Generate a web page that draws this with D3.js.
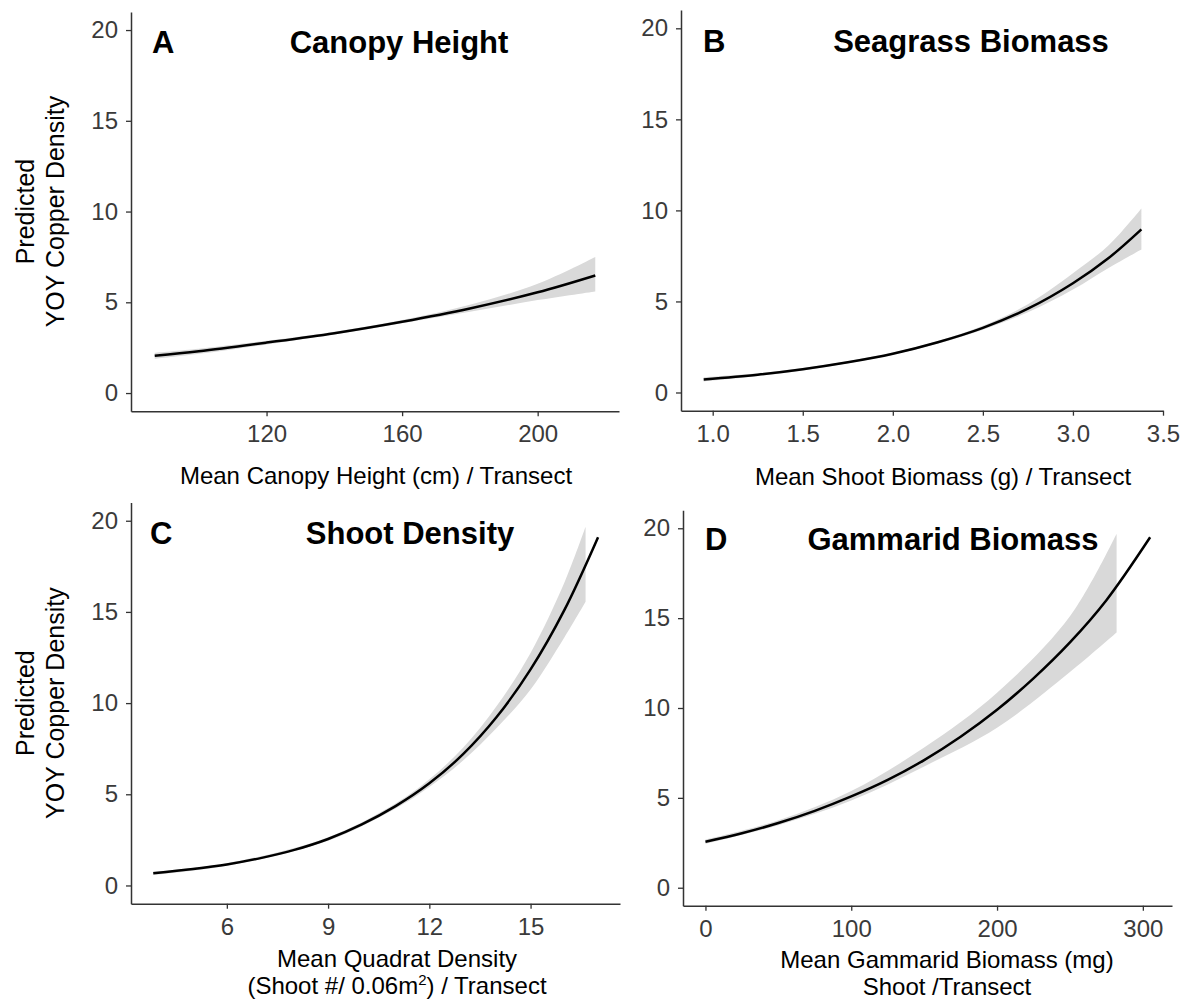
<!DOCTYPE html>
<html>
<head>
<meta charset="utf-8">
<title>Predicted YOY copper density</title>
<script src="https://d3js.org/d3.v7.min.js"></script>
<style>
  body { margin: 0; background: #fff; }
  svg { display: block; font-family: "Liberation Sans", Arial, sans-serif; }
</style>
</head>
<body>
<script>
// ---- data ----
var yTicks = [0, 5, 10, 15, 20];

// A: canopy height
var canopyX     = [87, 100, 120, 140, 160, 180, 200, 217];
var canopyFit   = [2.05, 2.30, 2.78, 3.30, 3.93, 4.66, 5.55, 6.48];
var canopyLower = [1.88, 2.16, 2.68, 3.22, 3.85, 4.48, 5.12, 5.60];
var canopyUpper = [2.22, 2.44, 2.88, 3.38, 4.02, 4.86, 6.02, 7.50];
var canopyTicks = [120, 160, 200];

// B: seagrass biomass
var biomassX     = [0.95, 1.25, 1.5, 1.75, 2.0, 2.25, 2.5, 2.75, 3.0, 3.2, 3.38];
var biomassFit   = [0.72, 0.98, 1.28, 1.66, 2.13, 2.76, 3.55, 4.60, 6.00, 7.40, 8.96];
var biomassLower = [0.60, 0.90, 1.21, 1.60, 2.07, 2.69, 3.45, 4.40, 5.65, 6.85, 7.85];
var biomassUpper = [0.84, 1.06, 1.35, 1.72, 2.19, 2.83, 3.66, 4.85, 6.55, 8.10, 10.1];
var biomassTicks = [1.0, 1.5, 2.0, 2.5, 3.0, 3.5];

// C: shoot density
var densityX     = [3.82, 5, 6, 7, 8, 9, 10, 11, 12, 13, 14, 15, 16, 17];
var densityFit   = [0.67, 0.90, 1.15, 1.50, 1.95, 2.55, 3.35, 4.35, 5.60, 7.20, 9.25, 11.85, 15.1, 19.1];
var densityBandX = [3.82, 6, 9, 11, 12, 13, 14, 15, 16, 16.63];
var densityLower = [0.58, 1.08, 2.45, 4.22, 5.40, 6.85, 8.65, 10.75, 13.6, 15.56];
var densityUpper = [0.76, 1.22, 2.65, 4.50, 5.82, 7.55, 9.85, 12.75, 16.6, 19.67];
var densityTicks = [6, 9, 12, 15];

// D: gammarid biomass
var gammarusX     = [0, 25, 50, 75, 100, 125, 150, 175, 200, 225, 250, 275, 305];
var gammarusFit   = [2.56, 3.03, 3.60, 4.28, 5.08, 6.00, 7.10, 8.40, 9.90, 11.65, 13.65, 16.0, 19.5];
var gammarusBandX = [0, 50, 100, 150, 200, 250, 282];
var gammarusLower = [2.45, 3.48, 4.85, 6.75, 8.90, 12.0, 14.2];
var gammarusUpper = [2.68, 3.75, 5.38, 7.80, 10.85, 15.1, 19.7];
var gammarusTicks = [0, 100, 200, 300];

// ---- layout ----
var panels = [
  { letter: "A", title: "Canopy Height", titleX: 399, letterX: 152, titleY: 53,
    left: 131, right: 619, top: 11.9, bottom: 411.2, xDomain: [80, 224],
    x: canopyX, fit: canopyFit, bandX: canopyX, lower: canopyLower, upper: canopyUpper,
    ticks: canopyTicks, fmt: d3.format("d"),
    xlab: ["Mean Canopy Height (cm) / Transect"], xlabX: 376, xlabY: 484, ylab: true },
  { letter: "B", title: "Seagrass Biomass", titleX: 971, letterX: 703, titleY: 52,
    left: 681, right: 1163, top: 10.1, bottom: 410.7, xDomain: [0.824, 3.5],
    x: biomassX, fit: biomassFit, bandX: biomassX, lower: biomassLower, upper: biomassUpper,
    ticks: biomassTicks, fmt: d3.format(".1f"),
    xlab: ["Mean Shoot Biomass (g) / Transect"], xlabX: 943, xlabY: 485, ylab: false },
  { letter: "C", title: "Shoot Density", titleX: 410, letterX: 150, titleY: 544,
    left: 131, right: 620, top: 502.5, bottom: 903.7, xDomain: [3.16, 17.65],
    x: densityX, fit: densityFit, bandX: densityBandX, lower: densityLower, upper: densityUpper,
    ticks: densityTicks, fmt: d3.format("d"),
    xlab: ["Mean Quadrat Density", "sup"], xlabX: 397, xlabY: 967, ylab: true },
  { letter: "D", title: "Gammarid Biomass", titleX: 953, letterX: 705, titleY: 550,
    left: 683, right: 1172, top: 510.3, bottom: 905.7, xDomain: [-15.4, 320],
    x: gammarusX, fit: gammarusFit, bandX: gammarusBandX, lower: gammarusLower, upper: gammarusUpper,
    ticks: gammarusTicks, fmt: d3.format("d"),
    xlab: ["Mean Gammarid Biomass (mg)", "Shoot /Transect"], xlabX: 947, xlabY: 968, ylab: false }
];

var svg = d3.select("body").append("svg")
    .attr("width", 1182)
    .attr("height", 1001);

svg.append("rect").attr("width", 1182).attr("height", 1001).attr("fill", "#fff");

panels.forEach(function(p) {
  var x = d3.scaleLinear().domain(p.xDomain).range([p.left, p.right]);
  var y = d3.scaleLinear().domain([-1, 21]).range([p.bottom, p.top]);
  var g = svg.append("g");

  // confidence band
  var band = d3.area()
      .x(function(d) { return x(d[0]); })
      .y0(function(d) { return y(d[1]); })
      .y1(function(d) { return y(d[2]); })
      .curve(d3.curveCatmullRom);
  g.append("path")
      .datum(d3.zip(p.bandX, p.lower, p.upper))
      .attr("d", band)
      .attr("fill", "#d9d9d9");

  // fitted curve
  var line = d3.line()
      .x(function(d) { return x(d[0]); })
      .y(function(d) { return y(d[1]); })
      .curve(d3.curveCatmullRom);
  g.append("path")
      .datum(d3.zip(p.x, p.fit))
      .attr("d", line)
      .attr("fill", "none")
      .attr("stroke", "#000")
      .attr("stroke-width", 2.5);

  // axes
  var ya = g.append("g")
      .attr("transform", "translate(" + p.left + ",0)")
      .call(d3.axisLeft(y).tickValues(yTicks).tickSize(5).tickSizeOuter(0).tickPadding(8));
  var xa = g.append("g")
      .attr("transform", "translate(0," + p.bottom + ")")
      .call(d3.axisBottom(x).tickValues(p.ticks).tickFormat(p.fmt).tickSize(5).tickSizeOuter(0).tickPadding(9));

  [ya, xa].forEach(function(a) {
    a.select(".domain").attr("stroke", "#333").attr("stroke-width", 1.5);
    a.selectAll(".tick line").attr("stroke", "#333").attr("stroke-width", 1.3);
    a.selectAll(".tick text")
        .attr("fill", "#3a3a3a")
        .style("font-size", "24px")
        .style("font-family", "'Liberation Sans', Arial, sans-serif");
  });

  // panel letter and title
  g.append("text")
      .attr("x", p.letterX).attr("y", p.titleY)
      .style("font-size", "31px").style("font-weight", "bold")
      .text(p.letter);
  g.append("text")
      .attr("x", p.titleX).attr("y", p.titleY)
      .attr("text-anchor", "middle")
      .style("font-size", "31px").style("font-weight", "bold")
      .text(p.title);

  // x axis title
  g.append("text")
      .attr("x", p.xlabX).attr("y", p.xlabY)
      .attr("text-anchor", "middle")
      .style("font-size", "24px")
      .text(p.xlab[0]);
  if (p.xlab[1] === "sup") {
    var t2 = g.append("text")
        .attr("x", p.xlabX).attr("y", p.xlabY + 27)
        .attr("text-anchor", "middle")
        .style("font-size", "24px");
    t2.append("tspan").text("(Shoot #/ 0.06m");
    t2.append("tspan").attr("dy", -9).style("font-size", "15px").text("2");
    t2.append("tspan").attr("dy", 9).text(") / Transect");
  } else if (p.xlab[1]) {
    g.append("text")
        .attr("x", p.xlabX).attr("y", p.xlabY + 27)
        .attr("text-anchor", "middle")
        .style("font-size", "24px")
        .text(p.xlab[1]);
  }

  // y axis title
  if (p.ylab) {
    var cy = (y(0) + y(20)) / 2;
    var yt = g.append("text")
        .attr("transform", "translate(0," + cy + ") rotate(-90)")
        .attr("text-anchor", "middle")
        .style("font-size", "25px");
    yt.append("tspan").attr("x", 0).attr("y", 34).text("Predicted");
    yt.append("tspan").attr("x", 0).attr("y", 64).text("YOY Copper Density");
  }
});
</script>
</body>
</html>
